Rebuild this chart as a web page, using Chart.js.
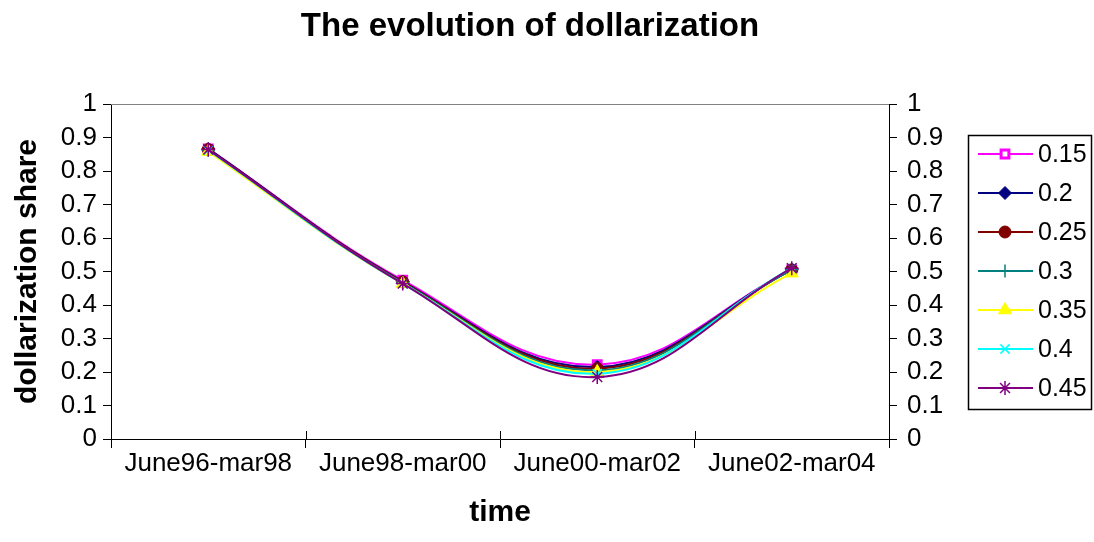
<!DOCTYPE html>
<html>
<head>
<meta charset="utf-8">
<title>The evolution of dollarization</title>
<script src="https://cdn.jsdelivr.net/npm/chart.js@4/dist/chart.umd.min.js"></script>
<style>
  body { margin: 0; background: #fff; }
  canvas { display: block; }
</style>
</head>
<body>
<canvas id="chart" width="1094" height="542"></canvas>
<script>
// data
const categories = ['June96-mar98', 'June98-mar00', 'June00-mar02', 'June02-mar04'];
const seriesNames = ['0.15', '0.2', '0.25', '0.3', '0.35', '0.4', '0.45'];

const s015 = [0.866, 0.474, 0.222, 0.505];
const s020 = [0.866, 0.470, 0.215, 0.505];
const s025 = [0.864, 0.469, 0.210, 0.505];
const s030 = [0.862, 0.467, 0.205, 0.505];
const s035 = [0.858, 0.464, 0.200, 0.495];
const s040 = [0.862, 0.464, 0.195, 0.510];
const s045 = [0.864, 0.464, 0.185, 0.510];

const seriesValues = [s015, s020, s025, s030, s035, s040, s045];

const colors = ['#FF00FF', '#000080', '#800000', '#008080', '#FFFF00', '#00FFFF', '#800080'];

// marker looks, same order as the series
const markers = [
    { style: 'rect', radius: 5.5, fill: '#FFFFFF', width: 3 },
    { style: 'rectRot', radius: 6.5, fill: null, width: 1 },
    { style: 'circle', radius: 6, fill: null, width: 1 },
    { style: 'cross', radius: 6.5, fill: null, width: 1.5 },
    { style: 'triangle', radius: 7.5, fill: null, width: 1 },
    { style: 'crossRot', radius: 6.5, fill: null, width: 1.5 },
    { style: 'star', radius: 7, fill: null, width: 1.5 }
];

const FONT = "'Liberation Sans', Arial, sans-serif";

const datasets = seriesNames.map((name, i) => ({
    label: name,
    data: seriesValues[i],
    borderColor: colors[i],
    backgroundColor: colors[i],
    borderWidth: 2,
    tension: 0.4,
    pointStyle: markers[i].style,
    pointRadius: markers[i].radius,
    pointHoverRadius: markers[i].radius,
    pointBackgroundColor: markers[i].fill || colors[i],
    pointBorderColor: colors[i],
    pointBorderWidth: markers[i].width,
    order: seriesNames.length - 1 - i
}));

// frame bits and the boxed legend on the right
const extras = {
    id: 'extras',
    afterDraw(chart) {
        const ctx = chart.ctx;
        const area = chart.chartArea;
        ctx.save();

        // grey top edge of the plot
        ctx.strokeStyle = '#808080';
        ctx.lineWidth = 1;
        ctx.beginPath();
        ctx.moveTo(area.left, area.top + 0.5);
        ctx.lineTo(area.right, area.top + 0.5);
        ctx.stroke();

        // x ticks also poke up into the plot
        ctx.strokeStyle = '#000';
        const n = categories.length;
        for (let i = 0; i <= n; i++) {
            const x = Math.round(area.left + i * (area.right - area.left) / n) + 0.5;
            ctx.beginPath();
            ctx.moveTo(x, area.bottom - 8);
            ctx.lineTo(x, area.bottom);
            ctx.stroke();
        }

        // legend
        ctx.lineWidth = 1.5;
        ctx.strokeStyle = '#000';
        ctx.strokeRect(968.5, 135.5, 123, 274);
        ctx.font = '25px ' + FONT;
        ctx.textBaseline = 'middle';
        ctx.textAlign = 'left';
        seriesNames.forEach((name, i) => {
            const y = 154 + i * 39;
            ctx.strokeStyle = colors[i];
            ctx.lineWidth = 2;
            ctx.beginPath();
            ctx.moveTo(978, y);
            ctx.lineTo(1033, y);
            ctx.stroke();
            ctx.fillStyle = markers[i].fill || colors[i];
            ctx.strokeStyle = colors[i];
            ctx.lineWidth = markers[i].width;
            Chart.helpers.drawPoint(ctx, {
                pointStyle: markers[i].style,
                radius: markers[i].radius,
                rotation: 0,
                borderWidth: markers[i].width
            }, 1005, y);
            ctx.fillStyle = '#000';
            ctx.fillText(name, 1038, y + 1);
        });
        ctx.restore();
    }
};

const ctx = document.getElementById('chart').getContext('2d');

new Chart(ctx, {
    type: 'line',
    data: {
        labels: categories,
        datasets: datasets
    },
    options: {
        responsive: false,
        animation: false,
        layout: {
            padding: { left: 0, right: 34, top: 0, bottom: 0 }
        },
        plugins: {
            legend: { display: false },
            tooltip: { enabled: false },
            title: {
                display: true,
                text: 'The evolution of dollarization',
                color: '#000',
                font: { family: FONT, size: 33, weight: 'bold', lineHeight: 1.2 },
                padding: { top: 7.2, bottom: 57.2 }
            }
        },
        scales: {
            x: {
                type: 'category',
                offset: true,
                grid: {
                    offset: true,
                    drawOnChartArea: false,
                    tickLength: 9,
                    color: '#000'
                },
                border: { color: '#000', width: 1 },
                ticks: {
                    color: '#000',
                    font: { family: FONT, size: 26 },
                    padding: 0,
                    maxRotation: 0,
                    autoSkip: false
                },
                title: {
                    display: true,
                    text: 'time',
                    color: '#000',
                    font: { family: FONT, size: 30, weight: 'bold' },
                    padding: { top: 0, bottom: 11 }
                },
                afterFit(scale) { scale.height = 103; }
            },
            y: {
                position: 'left',
                min: 0,
                max: 1,
                grid: {
                    drawOnChartArea: false,
                    tickLength: 8,
                    color: '#000'
                },
                border: { color: '#000', width: 1 },
                ticks: {
                    stepSize: 0.1,
                    autoSkip: false,
                    color: '#000',
                    font: { family: FONT, size: 26 },
                    padding: 6,
                    callback: v => Math.round(v * 10) / 10
                },
                title: {
                    display: true,
                    text: 'dollarization share',
                    color: '#000',
                    font: { family: FONT, size: 30, weight: 'bold' },
                    padding: { top: 10, bottom: 0 }
                },
                afterFit(scale) { scale.width = 111; }
            },
            y2: {
                position: 'right',
                min: 0,
                max: 1,
                grid: {
                    drawOnChartArea: false,
                    tickLength: 8,
                    color: '#000'
                },
                border: { color: '#000', width: 1 },
                ticks: {
                    stepSize: 0.1,
                    autoSkip: false,
                    color: '#000',
                    font: { family: FONT, size: 26 },
                    padding: 10,
                    callback: v => Math.round(v * 10) / 10
                },
                afterFit(scale) { scale.width = 171; }
            }
        }
    },
    plugins: [extras]
});
</script>
</body>
</html>
